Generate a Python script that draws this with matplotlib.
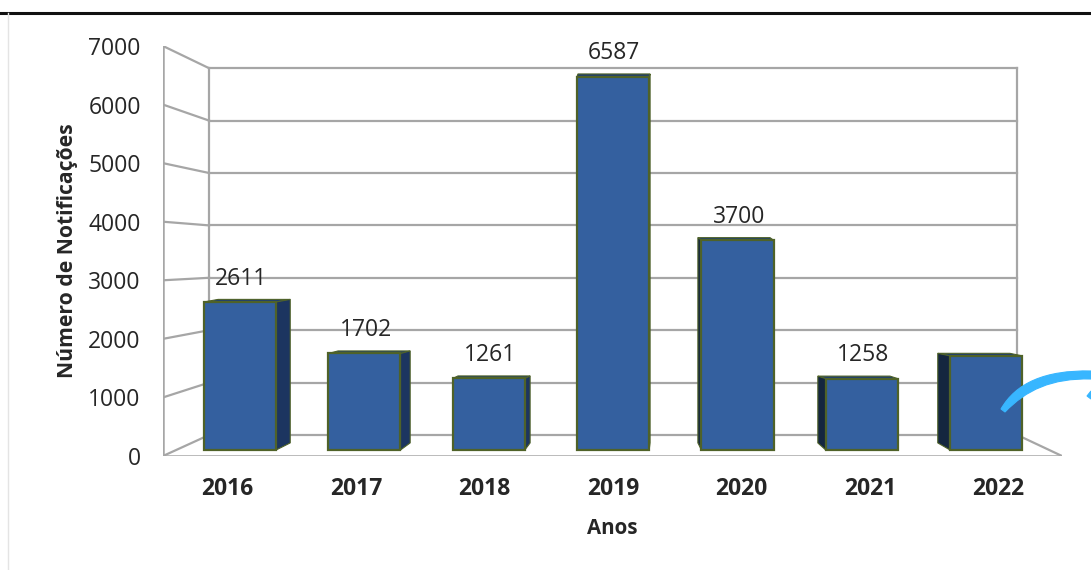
import matplotlib
matplotlib.use("Agg")
import matplotlib.pyplot as plt
from matplotlib.path import Path
from matplotlib.patches import PathPatch
from matplotlib.transforms import Affine2D

anos = ["2016", "2017", "2018", "2019", "2020", "2021", "2022"]
notificacoes = [2611, 1702, 1261, 6587, 3700, 1258, 1660]
rotulos = ["2611", "1702", "1261", "6587", "3700", "1258", ""]
y_ticks = [0, 1000, 2000, 3000, 4000, 5000, 6000, 7000]

FACE = "#34609f"
SIDE = "#1c3560"
SIDE_DARK = "#14263f"
TOP = "#1f3f70"
EDGE = "#4f6228"
GRID = "#a6a6a6"
TXT = "#262626"
FONT = "Open Sans"

W, H = 1091, 570
fig = plt.figure(figsize=(W / 100, H / 100), dpi=100, facecolor="white")
# axes spans the front floor edge of the fake 3d box
ax = fig.add_axes([163 / W, (H - 456) / H, 899 / W, 410 / H])
ax.set_xlim(-0.62, 6.61)
ax.set_ylim(-106, 7125)
ax.patch.set_visible(False)
for s in ax.spines.values():
    s.set_visible(False)


def front(v):
    return v * 1.033 - 106


def back(v):
    return v * 0.924 + 265


x_wall, x_back, x_right, x_tip = -0.62, -0.249, 6.25, 6.61

# walls
for v in y_ticks:
    ax.plot([x_back, x_right], [back(v), back(v)], color=GRID, lw=1.6, zorder=1)
    ax.plot([x_wall, x_back], [front(v), back(v)], color=GRID, lw=1.6, zorder=1)
ax.plot([x_wall, x_wall], [front(0), front(7000)], color=GRID, lw=1.8, zorder=1)
ax.plot([x_back, x_back], [back(0), back(7000)], color=GRID, lw=1.6, zorder=1)
ax.plot([x_right, x_right], [back(0), back(7000)], color=GRID, lw=1.6, zorder=1)
ax.plot([x_wall, x_tip], [front(0), front(0)], color=GRID, lw=1.8, zorder=1)
ax.plot([x_right, x_tip], [back(0), front(0)], color=GRID, lw=1.6, zorder=1)

# bars
largura = 0.58
for i, v in enumerate(notificacoes):
    dx = -(i - 3.2) * 0.0354
    dy_top = 45
    dy_bot = 125
    esq = i - largura / 2
    dir_ = i + largura / 2
    lado = esq if dx < 0 else dir_
    cor = SIDE_DARK if dx < 0 else SIDE
    ax.fill([esq, dir_, dir_ + dx, esq + dx], [v, v, v + dy_top, v + dy_top],
            facecolor=TOP, edgecolor=EDGE, lw=0.8, zorder=3)
    ax.fill([lado, lado + dx, lado + dx, lado], [0, dy_bot, v + dy_top, v],
            facecolor=cor, edgecolor=EDGE, lw=0.8, zorder=3)
    ax.bar(i, v, width=largura, color=FACE, edgecolor=EDGE, linewidth=1.6, zorder=4)
    if rotulos[i]:
        ax.text(i + 0.01, v + 410, rotulos[i], ha="center", va="center",
                fontsize=16.5, color=TXT, family=FONT, zorder=5)

# ticks
ax.set_yticks([front(v) for v in y_ticks])
ax.set_yticklabels([str(v) for v in y_ticks], fontsize=16.5, color=TXT, family=FONT)
ax.set_xticks([3 + (i - 3) * 1.033 for i in range(len(anos))])
ax.set_xticklabels(anos, fontsize=16.5, fontweight="bold", color=TXT, family=FONT)
ax.tick_params(axis="y", length=0, pad=16)
ax.tick_params(axis="x", length=0, pad=15)

fig.text(68 / W, 1 - 251 / H, "Número de Notificações", rotation=90, ha="center", va="center",
         fontsize=15.2, fontweight="bold", color=TXT, family=FONT)
fig.text(612 / W, 1 - 528 / H, "Anos", ha="center", va="center",
         fontsize=14.8, fontweight="bold", color=TXT, family=FONT)

# screenshot leftovers: frame edge and the blue pen stroke (pixel coords)
px = Affine2D().scale(1, -1).translate(0, H)
fig.add_artist(plt.Line2D([0, W], [13, 13], color="#111111", lw=2.2, transform=px))
fig.add_artist(plt.Line2D([7.5, 7.5], [13, H], color="#e4e4e4", lw=1.0, transform=px))
traco = Path([(1001, 409), (1016, 383), (1045, 370), (1091, 371),
              (1091, 379), (1052, 378), (1026, 390), (1005, 412), (1001, 409)],
             [Path.MOVETO, Path.CURVE4, Path.CURVE4, Path.CURVE4,
              Path.LINETO, Path.CURVE4, Path.CURVE4, Path.CURVE4, Path.CLOSEPOLY])
fig.add_artist(PathPatch(traco, facecolor="#38b6ff", edgecolor="#38b6ff", lw=0.8, transform=px))
fig.add_artist(PathPatch(Path([(1091, 391), (1087, 396), (1091, 399), (1091, 391)],
                              [Path.MOVETO, Path.LINETO, Path.LINETO, Path.CLOSEPOLY]),
                         facecolor="#38b6ff", edgecolor="#38b6ff", lw=0.8, transform=px))

fig.savefig("out.png", dpi=100)
